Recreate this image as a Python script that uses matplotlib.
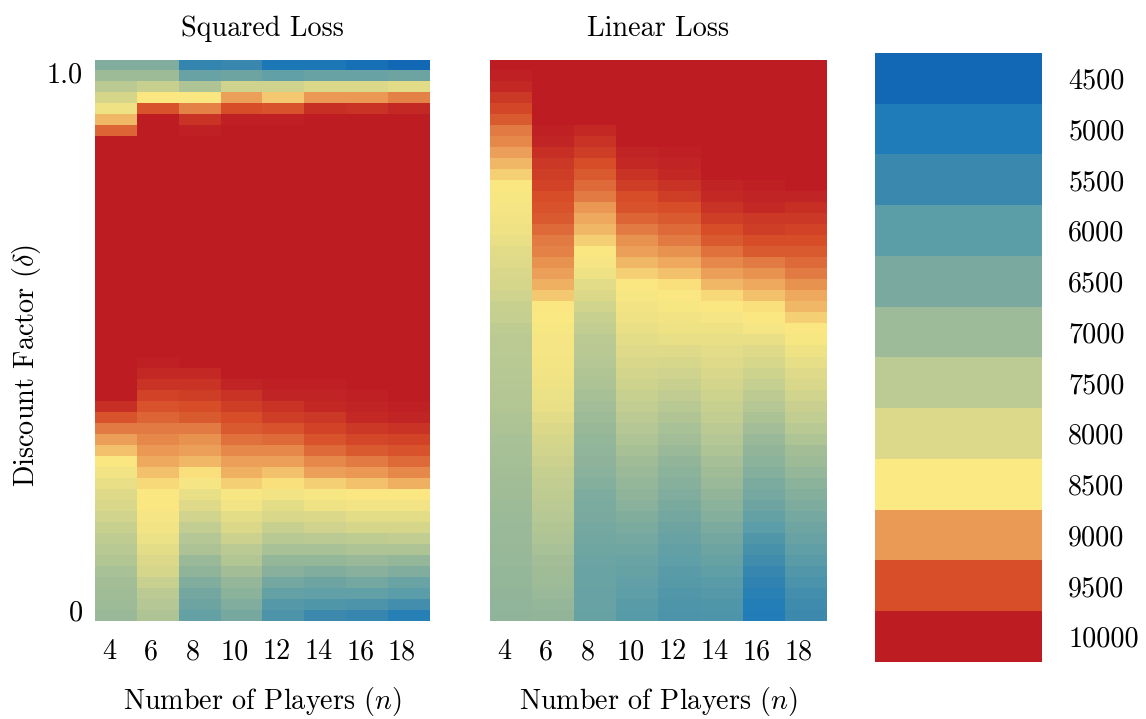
import numpy as np
import matplotlib
matplotlib.use("Agg")
import matplotlib.pyplot as plt
from matplotlib.colors import LinearSegmentedColormap, ListedColormap, BoundaryNorm
from matplotlib.cm import ScalarMappable
from matplotlib.transforms import ScaledTranslation

plt.rcParams['font.family'] = 'cmr10'
plt.rcParams['mathtext.fontset'] = 'cm'
plt.rcParams['axes.formatter.use_mathtext'] = True

# number of players (columns) and discount factor grid (rows, listed top = 1.0 down to 0)
n_players = [4, 6, 8, 10, 12, 14, 16, 18]
delta = np.round(np.arange(1.0, -0.001, -0.02), 2)

# colour bar levels and their band colours
levels = [4500, 5000, 5500, 6000, 6500, 7000, 7500, 8000, 8500, 9000, 9500, 10000]
band_colors = ["#1268b5", "#1f7cb8", "#3a88ae", "#5c9ea8", "#7aaa9f", "#9dbb98",
               "#bccb93", "#dcd98a", "#fbe983", "#eb9a55", "#d74e29", "#bd1c23"]

# Squared loss, one list per n (values from delta = 1.0 down to 0)
sq_n4 = [6600, 7000, 7500, 7900, 8300, 8800, 9350] + [10000] * 24 + \
    [9800, 9450, 9200, 8950, 8750, 8500, 8350, 8200, 8050, 7950,
     7850, 7700, 7550, 7450, 7350, 7200, 7100, 7050, 7000, 6950]
sq_n6 = [6600, 7000, 7700, 8500, 9450] + [10000] * 22 + \
    [9950, 9850, 9750, 9600, 9450, 9350, 9200, 9100, 9000, 8900, 8750, 8600,
     8500, 8500, 8400, 8350, 8250, 8150, 8000, 7900, 7700, 7500, 7400, 7300]
sq_n8 = [5400, 6200, 7300, 8500, 9150, 9750, 9950] + [10000] * 21 + \
    [9850, 9750, 9650, 9500, 9400, 9200, 9050, 8950, 8800, 8550, 8400, 8200,
     8050, 7850, 7600, 7400, 7250, 6950, 6800, 6600, 6400, 6300, 6150]
sq_n10 = [5500, 6300, 7800, 8950, 9500, 9950] + [10000] * 23 + \
    [9900, 9750, 9650, 9500, 9400, 9250, 9100, 8950, 8850, 8650, 8450,
     8350, 8150, 8000, 7750, 7500, 7350, 7100, 6900, 6750, 6600, 6450]
sq_n12 = [4900, 6100, 7800, 8700, 9450, 9950] + [10000] * 23 + \
    [9950, 9900, 9750, 9650, 9450, 9300, 9100, 8950, 8750, 8550, 8350,
     8150, 7950, 7700, 7450, 7200, 6900, 6700, 6400, 6150, 5900, 5800]
sq_n14 = [4900, 6200, 8000, 9000, 9800] + [10000] * 24 + \
    [9950, 9900, 9850, 9700, 9600, 9450, 9300, 9100, 8950, 8650, 8450,
     8300, 8000, 7800, 7500, 7200, 6900, 6600, 6300, 6100, 5850, 5550]
sq_n16 = [4700, 6200, 8000, 9000, 9750] + [10000] * 25 + \
    [9950, 9900, 9850, 9700, 9550, 9400, 9200, 9000, 8750, 8500, 8350,
     8150, 7900, 7550, 7300, 6950, 6700, 6400, 6100, 5800, 5450]
sq_n18 = [4500, 6300, 8100, 9150, 9850] + [10000] * 26 + \
    [9950, 9900, 9750, 9600, 9450, 9300, 9100, 8850, 8500, 8350,
     8150, 7900, 7600, 7300, 6900, 6600, 6250, 6000, 5650, 5150]

# Linear loss
lin_n4 = [10000, 9950, 9850, 9700, 9550, 9400, 9200, 9100, 8950, 8800, 8650, 8500, 8450,
          8400, 8350, 8300, 8200, 8100, 8050, 7950, 7900, 7800, 7700, 7650, 7550, 7500,
          7480, 7450, 7420, 7400, 7370, 7350, 7300, 7250, 7200, 7170, 7130, 7100, 7070,
          7040, 7000, 6980, 6960, 6950, 6930, 6910, 6900, 6880, 6850, 6830, 6820]
lin_n6 = [10000] * 6 + \
    [9950, 9900, 9800, 9700, 9650, 9600, 9500, 9450, 9400, 9300, 9200, 9150, 9050,
     8950, 8850, 8700, 8500, 8480, 8450, 8400,
     8400, 8380, 8350, 8300, 8250, 8200, 8100, 8000, 7900, 7820, 7750, 7650, 7600,
     7550, 7500, 7420, 7350, 7300, 7200, 7120, 7050, 7000, 6950, 6900, 6850]
lin_n8 = [10000] * 6 + \
    [9850, 9750, 9650, 9500, 9400, 9300, 9200, 9000, 8900, 8800, 8650, 8500, 8400,
     8300, 8100, 8000, 7850, 7700, 7600, 7500,
     7450, 7400, 7330, 7250, 7170, 7080, 7000, 6930, 6880, 6830, 6780, 6720, 6650,
     6580, 6530, 6480, 6430, 6380, 6330, 6280, 6240, 6220, 6200, 6200, 6180]
lin_n10 = [10000] * 8 + \
    [9900, 9850, 9750, 9650, 9500, 9450, 9350, 9200, 9050, 8950, 8800, 8650, 8500,
     8450, 8350, 8300, 8200, 8150,
     8050, 7950, 7870, 7780, 7700, 7600, 7500, 7400, 7300, 7180, 7050, 6950, 6870,
     6800, 6720, 6620, 6520, 6420, 6330, 6250, 6180, 6100, 6030, 5980, 5950]
lin_n12 = [10000] * 8 + \
    [9950, 9900, 9850, 9750, 9650, 9500, 9400, 9300, 9200, 9050, 8900, 8750, 8550,
     8500, 8450, 8350, 8300, 8200,
     8050, 7930, 7800, 7680, 7570, 7450, 7330, 7200, 7080, 6970, 6850, 6750, 6680,
     6600, 6500, 6400, 6300, 6200, 6120, 6050, 5970, 5920, 5870, 5830, 5800]
lin_n14 = [10000] * 11 + \
    [9900, 9850, 9750, 9650, 9500, 9400, 9250, 9100, 8950, 8800, 8600, 8500, 8400,
     8300, 8200,
     8130, 8050, 7950, 7870, 7780, 7700, 7600, 7500, 7400, 7280, 7150, 7050, 6950,
     6850, 6750, 6650, 6520, 6400, 6300, 6180, 6070, 5980, 5900, 5850, 5820]
lin_n16 = [10000] * 11 + \
    [9950, 9900, 9850, 9700, 9650, 9500, 9400, 9200, 9050, 8900, 8750, 8550, 8500,
     8400, 8200,
     8050, 7920, 7780, 7650, 7520, 7380, 7230, 7080, 6950, 6850, 6750, 6650, 6530,
     6420, 6300, 6150, 6000, 5850, 5720, 5600, 5450, 5320, 5180, 5100, 5050]
lin_n18 = [10000] * 12 + \
    [9900, 9800, 9700, 9600, 9500, 9400, 9300, 9200, 9050, 8900, 8800, 8650, 8500,
     8450,
     8300, 8180, 8050, 7950, 7850, 7720, 7580, 7450, 7300, 7120, 7000, 6870, 6750,
     6650, 6550, 6430, 6320, 6200, 6080, 5970, 5860, 5750, 5650, 5580, 5550]

squared_loss = np.column_stack([sq_n4, sq_n6, sq_n8, sq_n10, sq_n12, sq_n14, sq_n16, sq_n18])
linear_loss = np.column_stack([lin_n4, lin_n6, lin_n8, lin_n10, lin_n12, lin_n14, lin_n16, lin_n18])

cmap = LinearSegmentedColormap.from_list(
    "loss", list(zip(np.linspace(0, 1, len(band_colors)), band_colors)))
vmin, vmax = levels[0], levels[-1]

fig = plt.figure(figsize=(11.46, 7.19), dpi=100)
ax1 = fig.add_axes([0.0829, 0.1363, 0.2923, 0.7803])
ax2 = fig.add_axes([0.4276, 0.1363, 0.2940, 0.7803])
cax = fig.add_axes([0.7635, 0.0793, 0.1457, 0.8470])

fs = 20.3
step = 0.02
ext = [n_players[0] - 1, n_players[-1] + 1, delta[-1] - step / 2, delta[0] + step / 2]
shift = ScaledTranslation(-7 / 100, 0, fig.dpi_scale_trans)

for ax, data, title in [(ax1, squared_loss, "Squared Loss"), (ax2, linear_loss, "Linear Loss")]:
    ax.imshow(data, cmap=cmap, vmin=vmin, vmax=vmax, aspect="auto",
              interpolation="nearest", origin="upper", extent=ext)
    ax.set_title(title, fontsize=fs, pad=17)
    ax.set_xticks(n_players)
    ax.set_xticklabels([str(n) for n in n_players], fontsize=fs)
    ax.tick_params(axis="both", length=0)
    ax.tick_params(axis="x", pad=13)
    for lbl in ax.get_xticklabels():
        lbl.set_transform(lbl.get_transform() + shift)
    ax.set_xlabel(r"Number of Players ($n$)", fontsize=fs, labelpad=14)
    for sp in ax.spines.values():
        sp.set_visible(False)

ax1.set_yticks([0, 1.0])
ax1.set_yticklabels(["0", "1.0"], fontsize=fs)
ax1.tick_params(axis="y", pad=9)
# the tick labels sit slightly inside the end rows in the original
ylbls = ax1.get_yticklabels()
ylbls[0].set_transform(ylbls[0].get_transform() + ScaledTranslation(0, 5 / 100, fig.dpi_scale_trans))
ylbls[1].set_transform(ylbls[1].get_transform() + ScaledTranslation(0, -7 / 100, fig.dpi_scale_trans))
ax1.set_ylabel(r"Discount Factor ($\delta$)", fontsize=fs)
ax1.yaxis.set_label_coords(-0.155, 0.4545)
ax2.set_yticks([])

# discrete colour bar
bounds = np.arange(levels[0] - 250, levels[-1] + 251, 500)
sm = ScalarMappable(norm=BoundaryNorm(bounds, len(band_colors)), cmap=ListedColormap(band_colors))
cbar = fig.colorbar(sm, cax=cax, ticks=levels)
cbar.outline.set_visible(False)
cax.minorticks_off()
cax.invert_yaxis()
cax.set_yticklabels([str(v) for v in levels])
cax.tick_params(which="both", length=0, pad=19, labelsize=fs)

fig.savefig("out.png", dpi=100)
